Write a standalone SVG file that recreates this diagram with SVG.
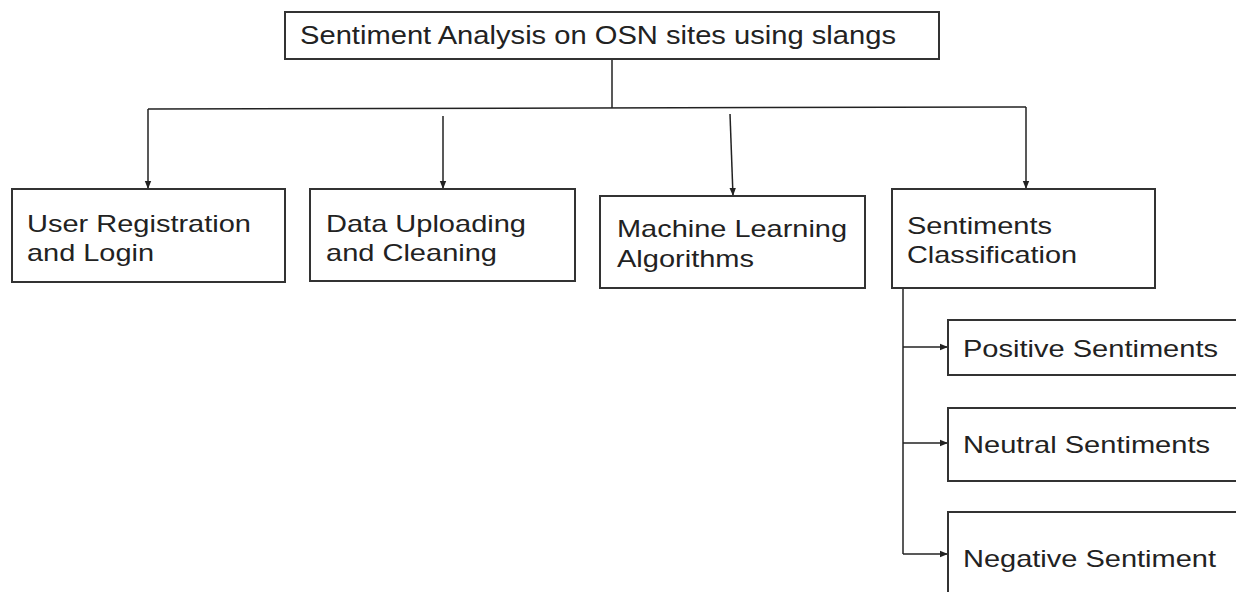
<svg xmlns="http://www.w3.org/2000/svg" width="1236" height="592" viewBox="0 0 1236 592">
<style>
.box{fill:#fff;stroke:#333;stroke-width:2}
.t{font-family:"Liberation Sans",Arial,sans-serif;font-size:24px;fill:#222}
.title{font-size:25px}
.c{fill:none;stroke:#222;stroke-width:1.5}
</style>
<defs>
<marker id="ah" viewBox="0 0 10 10" refX="10" refY="5" markerWidth="8" markerHeight="8" markerUnits="userSpaceOnUse" orient="auto">
<path d="M0,1 L10,5 L0,9 z" fill="#222"/>
</marker>
</defs>
<rect width="1236" height="592" fill="#fff"/>
<g id="connectors">
<path class="c" d="M612,59 L612,108"/>
<path class="c" d="M148,109 L1026,107"/>
<path class="c" d="M148,109 L148,189" marker-end="url(#ah)"/>
<path class="c" d="M443,116 L443,189" marker-end="url(#ah)"/>
<path class="c" d="M730,114 L733,196" marker-end="url(#ah)"/>
<path class="c" d="M1026,107 L1026,189" marker-end="url(#ah)"/>
<path class="c" d="M903,288 L903,554"/>
<path class="c" d="M903,347 L948,347" marker-end="url(#ah)"/>
<path class="c" d="M903,443 L948,443" marker-end="url(#ah)"/>
<path class="c" d="M903,554 L948,554" marker-end="url(#ah)"/>
</g>
<g id="root">
<rect class="box" x="285" y="12" width="654" height="47"/>
<text class="t title" x="300" y="44" textLength="596" lengthAdjust="spacingAndGlyphs">Sentiment Analysis on OSN sites using slangs</text>
</g>
<g id="user">
<rect class="box" x="12" y="189" width="273" height="93"/>
<text class="t" x="27" y="232" textLength="224" lengthAdjust="spacingAndGlyphs">User Registration</text>
<text class="t" x="27" y="261" textLength="127" lengthAdjust="spacingAndGlyphs">and Login</text>
</g>
<g id="data">
<rect class="box" x="310" y="189" width="265" height="92"/>
<text class="t" x="326" y="232" textLength="200" lengthAdjust="spacingAndGlyphs">Data Uploading</text>
<text class="t" x="326" y="261" textLength="171" lengthAdjust="spacingAndGlyphs">and Cleaning</text>
</g>
<g id="ml">
<rect class="box" x="600" y="196" width="265" height="92"/>
<text class="t" x="617" y="237" textLength="230" lengthAdjust="spacingAndGlyphs">Machine Learning</text>
<text class="t" x="617" y="267" textLength="137" lengthAdjust="spacingAndGlyphs">Algorithms</text>
</g>
<g id="classification">
<rect class="box" x="892" y="189" width="263" height="99"/>
<text class="t" x="907" y="234" textLength="145" lengthAdjust="spacingAndGlyphs">Sentiments</text>
<text class="t" x="907" y="263" textLength="170" lengthAdjust="spacingAndGlyphs">Classification</text>
</g>
<g id="positive">
<rect class="box" x="948" y="320" width="300" height="55"/>
<text class="t" x="963" y="357" textLength="255" lengthAdjust="spacingAndGlyphs">Positive Sentiments</text>
</g>
<g id="neutral">
<rect class="box" x="948" y="408" width="300" height="73"/>
<text class="t" x="963" y="453" textLength="247" lengthAdjust="spacingAndGlyphs">Neutral Sentiments</text>
</g>
<g id="negative">
<rect class="box" x="948" y="512" width="300" height="100"/>
<text class="t" x="963" y="567" textLength="253" lengthAdjust="spacingAndGlyphs">Negative Sentiment</text>
</g>
</svg>
